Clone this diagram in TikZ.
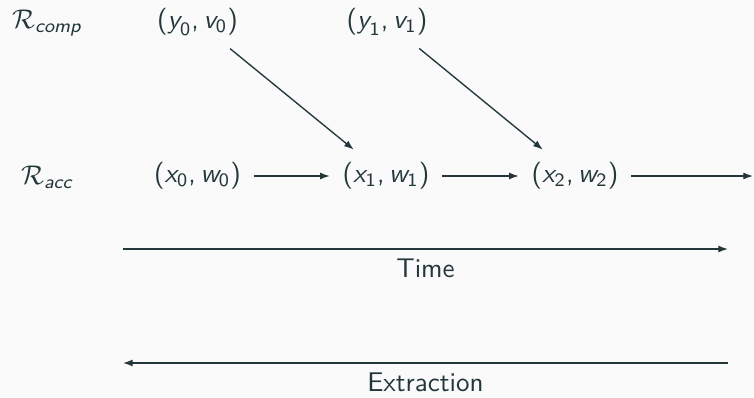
\documentclass[tikz,border=0pt]{standalone}
\usepackage{amsmath}
\usetikzlibrary{arrows.meta}
\definecolor{fgtext}{HTML}{23373B}
\definecolor{bgpage}{HTML}{FAFAFA}
\newcommand{\pairlbl}[3]{$\textsf{(}\textit{#1}_{\textsf{#3}}\textsf{,}\,\textit{#2}_{\textsf{#3}}\textsf{)}$}
\tikzset{pair/.style={inner sep=4.5pt}}
\begin{document}
\begin{tikzpicture}[x=0.37pt,y=-0.37pt,>={Latex[length=3.6pt,width=2.6pt]},
  every node/.style={font=\sffamily,text=fgtext}, line width=0.5pt]
\fill[bgpage] (0,0) rectangle (754,397);
\useasboundingbox (0,0) rectangle (754,397);

\node[anchor=base] (rcomp) at (47,28) {$\mathcal{R}_{\textit{comp}}$};
\node[anchor=base] (racc) at (47,184) {$\mathcal{R}_{\textit{acc}}$};

\node[pair] (c0) at (197.5,22) {\pairlbl{y}{v}{0}};
\node[pair] (c1) at (387,22) {\pairlbl{y}{v}{1}};

\node[pair] (a0) at (197.5,176) {\pairlbl{x}{w}{0}};
\node[pair] (a1) at (386,176) {\pairlbl{x}{w}{1}};
\node[pair] (a2) at (575,176) {\pairlbl{x}{w}{2}};
\coordinate (aend) at (753,176);

\draw[->,fgtext] (a0) -- (a1);
\draw[->,fgtext] (a1) -- (a2);
\draw[->,fgtext] (a2) -- (aend);
\draw[->,fgtext] (c0) -- (a1);
\draw[->,fgtext] (c1) -- (a2);

\coordinate (t0) at (123,249);
\coordinate (t1) at (728,249);
\draw[->,fgtext] (t0) -- node[below] (tlbl) {Time} (t1);

\coordinate (e0) at (123,363);
\coordinate (e1) at (728,363);
\draw[->,fgtext] (e1) -- node[below] (elbl) {Extraction} (e0);
\end{tikzpicture}
\end{document}
